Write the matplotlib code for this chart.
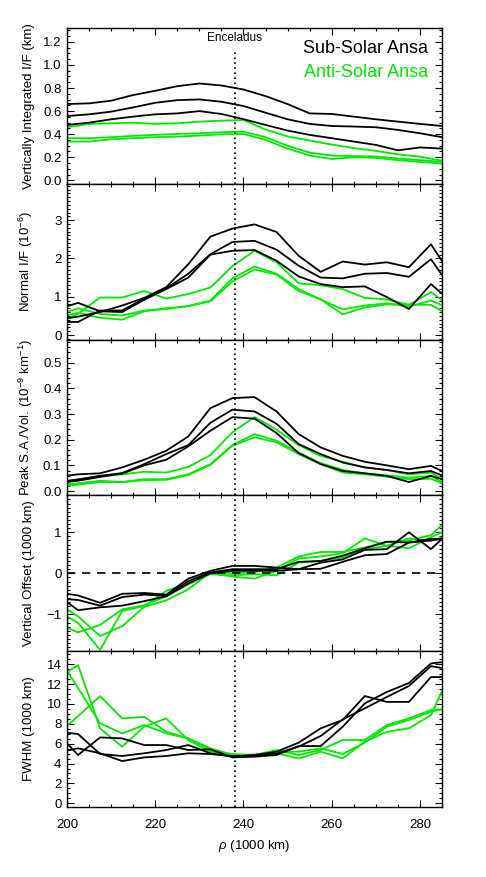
import numpy as np
import matplotlib
matplotlib.use('Agg')
from matplotlib import pyplot as plt
from matplotlib.ticker import MultipleLocator, FormatStrFormatter

plt.rcParams['font.family'] = ['Liberation Sans', 'DejaVu Sans']
plt.rcParams['mathtext.fontset'] = 'custom'
plt.rcParams['mathtext.rm'] = 'Liberation Sans'
plt.rcParams['mathtext.it'] = 'Liberation Sans:italic'

green = '#00ea00'
enceladus = 238.04

# radial samples (1000 km)
rho_fine = [200, 205, 210, 215, 220, 225, 230, 235, 240, 245, 250, 255, 260, 265, 270, 275, 280, 285]
rho = [197.5, 202.5, 207.5, 212.5, 217.5, 222.5, 227.5, 232.5, 237.5, 242.5,
       247.5, 252.5, 257.5, 262.5, 267.5, 272.5, 277.5, 282.5, 287.5]

# vertically integrated I/F (km)
sub_int = [
    [0.661, 0.667, 0.690, 0.739, 0.776, 0.816, 0.839, 0.822, 0.787, 0.730, 0.661, 0.580, 0.575, 0.552, 0.529, 0.509, 0.489, 0.471],
    [0.557, 0.572, 0.595, 0.632, 0.672, 0.695, 0.701, 0.681, 0.644, 0.586, 0.529, 0.489, 0.471, 0.466, 0.460, 0.437, 0.408, 0.374],
    [0.480, 0.500, 0.529, 0.552, 0.572, 0.580, 0.600, 0.575, 0.530, 0.480, 0.431, 0.394, 0.365, 0.336, 0.307, 0.260, 0.285, 0.275],
]
anti_int = [
    [0.460, 0.489, 0.494, 0.500, 0.489, 0.494, 0.509, 0.517, 0.523, 0.440, 0.380, 0.345, 0.310, 0.280, 0.255, 0.225, 0.205, 0.170],
    [0.365, 0.365, 0.374, 0.385, 0.394, 0.402, 0.408, 0.417, 0.422, 0.374, 0.300, 0.240, 0.215, 0.210, 0.207, 0.190, 0.175, 0.160],
    [0.336, 0.336, 0.356, 0.365, 0.374, 0.379, 0.388, 0.399, 0.402, 0.351, 0.275, 0.215, 0.185, 0.200, 0.195, 0.175, 0.160, 0.145],
]

# normal I/F (1e-6)
sub_if = [
    [0.66, 0.84, 0.62, 0.60, 0.92, 1.20, 1.50, 2.10, 2.20, 2.22, 1.94, 1.53, 1.33, 1.25, 1.27, 0.99, 0.68, 1.33, 0.83],
    [0.40, 0.48, 0.60, 0.77, 0.97, 1.25, 1.85, 2.57, 2.78, 2.89, 2.69, 2.07, 1.65, 1.92, 1.84, 1.90, 1.77, 2.37, 1.49],
    [0.34, 0.34, 0.64, 0.64, 0.95, 1.22, 1.60, 2.11, 2.43, 2.46, 2.23, 1.81, 1.50, 1.48, 1.60, 1.62, 1.52, 1.98, 1.16],
]
anti_if = [
    [0.30, 0.55, 0.98, 0.98, 1.15, 0.95, 1.07, 1.24, 1.80, 2.20, 1.90, 1.35, 1.30, 1.20, 0.97, 0.93, 0.79, 1.12, 0.70],
    [0.50, 0.70, 0.55, 0.51, 0.64, 0.68, 0.76, 0.90, 1.48, 1.79, 1.60, 1.20, 0.93, 0.67, 0.77, 0.83, 0.74, 0.90, 0.66],
    [0.45, 0.58, 0.45, 0.40, 0.62, 0.70, 0.75, 0.88, 1.40, 1.71, 1.58, 1.15, 0.93, 0.54, 0.72, 0.80, 0.79, 0.79, 0.45],
]

# peak surface area / volume (1e-9 km^-1)
sub_sav = [
    [0.055, 0.065, 0.069, 0.092, 0.122, 0.157, 0.213, 0.323, 0.362, 0.366, 0.310, 0.222, 0.170, 0.137, 0.114, 0.100, 0.085, 0.098, 0.058],
    [0.035, 0.045, 0.059, 0.070, 0.105, 0.144, 0.179, 0.266, 0.317, 0.310, 0.262, 0.183, 0.144, 0.111, 0.092, 0.082, 0.069, 0.078, 0.044],
    [0.030, 0.040, 0.055, 0.068, 0.100, 0.122, 0.174, 0.235, 0.288, 0.282, 0.226, 0.148, 0.105, 0.078, 0.069, 0.059, 0.035, 0.059, 0.033],
]
anti_sav = [
    [0.030, 0.045, 0.059, 0.065, 0.075, 0.072, 0.094, 0.140, 0.229, 0.288, 0.239, 0.179, 0.137, 0.114, 0.092, 0.082, 0.065, 0.072, 0.020],
    [0.022, 0.030, 0.040, 0.035, 0.046, 0.046, 0.065, 0.105, 0.179, 0.222, 0.196, 0.150, 0.109, 0.082, 0.069, 0.061, 0.052, 0.059, 0.011],
    [0.015, 0.025, 0.035, 0.035, 0.042, 0.044, 0.062, 0.102, 0.177, 0.209, 0.190, 0.144, 0.105, 0.072, 0.065, 0.056, 0.046, 0.048, 0.012],
]

# vertical offset (1000 km)
sub_off = [
    [-0.46, -0.54, -0.72, -0.50, -0.48, -0.52, -0.13, 0.06, 0.18, 0.18, 0.14, 0.10, 0.11, 0.28, 0.44, 0.47, 0.75, 0.80, 0.88],
    [-0.61, -0.65, -0.79, -0.58, -0.52, -0.55, -0.19, 0.02, 0.10, 0.10, 0.10, 0.28, 0.30, 0.43, 0.61, 0.77, 0.75, 0.84, 0.84],
    [-0.50, -0.90, -0.83, -0.79, -0.68, -0.56, -0.25, 0.00, 0.06, 0.06, 0.06, 0.10, 0.26, 0.34, 0.57, 0.59, 1.00, 0.59, 1.09],
]
anti_off = [
    [-0.71, -1.05, -1.53, -1.29, -0.82, -0.66, -0.39, 0.02, 0.00, 0.03, 0.14, 0.41, 0.52, 0.52, 0.63, 0.77, 0.80, 0.93, 1.43],
    [-1.22, -1.44, -1.26, -0.88, -0.78, -0.56, -0.27, 0.00, -0.08, -0.13, 0.06, 0.36, 0.41, 0.49, 0.85, 0.67, 0.61, 0.88, 1.12],
    [-0.89, -1.21, -1.87, -0.92, -0.80, -0.43, -0.23, -0.02, -0.05, -0.02, -0.05, 0.26, 0.30, 0.39, 0.59, 0.67, 0.85, 0.80, 0.96],
]

# FWHM (1000 km)
sub_fwhm = [
    [7.23, 6.97, 4.96, 4.76, 5.03, 5.36, 5.86, 5.03, 4.69, 4.86, 5.19, 6.10, 7.54, 8.38, 10.79, 10.20, 10.20, 12.70, 12.70],
    [7.20, 4.86, 6.63, 6.53, 5.86, 5.86, 5.36, 5.43, 4.62, 4.69, 4.86, 5.76, 5.76, 7.71, 10.05, 11.20, 12.10, 14.07, 14.33],
    [5.07, 5.53, 5.03, 4.25, 4.62, 4.76, 5.03, 4.96, 4.75, 4.80, 5.00, 5.70, 6.77, 8.44, 9.55, 10.70, 11.80, 13.80, 13.40],
]
anti_fwhm = [
    [6.77, 8.77, 10.78, 8.54, 8.70, 7.20, 6.53, 5.40, 4.86, 4.86, 5.36, 4.86, 5.36, 6.37, 6.37, 7.87, 8.54, 9.38, 9.50],
    [15.10, 11.60, 8.04, 7.03, 7.87, 7.03, 6.53, 5.53, 4.90, 4.90, 5.19, 5.19, 5.53, 4.96, 6.10, 7.71, 8.38, 9.21, 9.70],
    [12.50, 13.90, 7.54, 5.69, 7.70, 8.54, 6.36, 5.20, 4.95, 4.80, 5.03, 4.52, 5.19, 4.52, 6.20, 7.20, 7.54, 8.88, 13.70],
]

panels = [
    (rho_fine, sub_int, anti_int, 'Vertically Integrated I/F (km)', (-0.03, 1.32), 0.2, 0.05),
    (rho, sub_if, anti_if, 'Normal I/F (10$^{-6}$)', (-0.12, 3.95), 1, 0.1),
    (rho, sub_sav, anti_sav, 'Peak S.A./Vol. (10$^{-9}$ km$^{-1}$)', (-0.017, 0.59), 0.1, 0.02),
    (rho, sub_off, anti_off, 'Vertical Offset (1000 km)', (-1.9, 1.9), 1, 0.1),
    (rho, sub_fwhm, anti_fwhm, 'FWHM (1000 km)', (-0.37, 15.3), 2, 0.5),
]

fs = 9.5

fig = plt.figure(figsize=(4.86, 8.77), dpi=100)
left, width = 67 / 486, 375 / 486
ph = 155.8 / 877
bottom0 = 70 / 877

axes = []
for i, (x, sub, anti, label, ylim, major, minor) in enumerate(panels):
    ax = fig.add_axes([left, bottom0 + (4 - i) * ph, width, ph])
    axes.append(ax)
    for s in anti:
        ax.plot(x, s, color=green, lw=1.3, zorder=2)
    for s in sub:
        ax.plot(x, s, color='black', lw=1.3, zorder=3)
    ax.set_xlim(200, 285)
    ax.set_ylim(*ylim)
    ax.xaxis.set_major_locator(MultipleLocator(20))
    ax.xaxis.set_minor_locator(MultipleLocator(5))
    ax.yaxis.set_major_locator(MultipleLocator(major))
    ax.yaxis.set_minor_locator(MultipleLocator(minor))
    ax.tick_params(which='both', direction='in', top=True, right=True, labelsize=fs, width=0.8)
    ax.tick_params(which='major', length=5)
    ax.tick_params(which='minor', length=2.5)
    ax.tick_params(axis='y', pad=4)
    ax.tick_params(axis='x', pad=9)
    for sp in ax.spines.values():
        sp.set_linewidth(1.0)
    ax.set_ylabel(label, fontsize=fs)
    ax.yaxis.set_label_coords(-0.085, 0.5)
    if i < 4:
        ax.tick_params(labelbottom=False)

# tick label formats
axes[0].yaxis.set_major_formatter(FormatStrFormatter('%.1f'))
axes[2].yaxis.set_major_formatter(FormatStrFormatter('%.1f'))
axes[1].set_yticks([0, 1, 2, 3])
axes[3].set_yticks([-1, 0, 1])

# Enceladus line
for i, ax in enumerate(axes):
    if i == 0:
        lo, hi = ax.get_ylim()
        ax.axvline(enceladus, ymax=(1.13 - lo) / (hi - lo), color='black', ls=(0, (1, 2)), lw=1.2, zorder=4)
        ax.text(enceladus, 1.21, 'Enceladus', ha='center', va='baseline', fontsize=8.5)
    else:
        ax.axvline(enceladus, color='black', ls=(0, (1, 2)), lw=1.2, zorder=4)

axes[3].axhline(0, color='black', ls=(0, (5, 4)), lw=1.2, zorder=4)

axes[0].text(0.963, 0.84, 'Sub-Solar Ansa', transform=axes[0].transAxes,
             ha='right', va='baseline', fontsize=13, color='black')
axes[0].text(0.963, 0.686, 'Anti-Solar Ansa', transform=axes[0].transAxes,
             ha='right', va='baseline', fontsize=13, color=green)

axes[4].set_xlabel(r'$\rho$ (1000 km)', fontsize=fs, labelpad=5)

fig.savefig('out.png', dpi=100)
